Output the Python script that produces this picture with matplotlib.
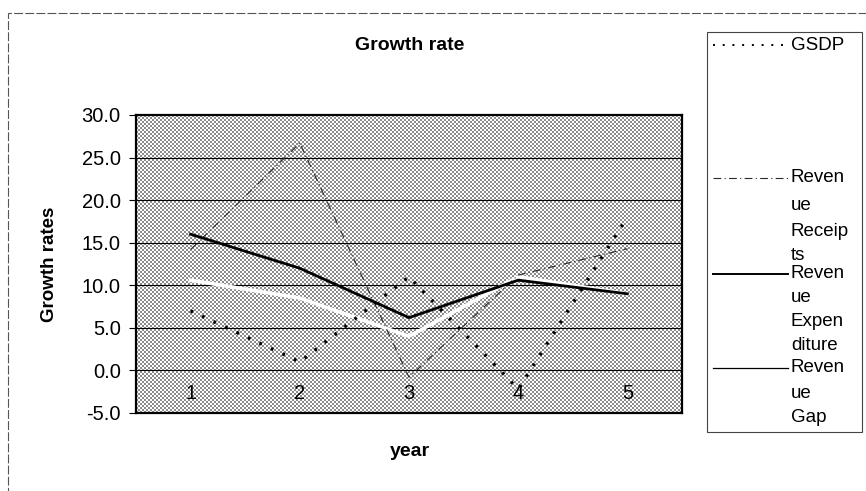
import numpy as np
import matplotlib
matplotlib.use("Agg")
import matplotlib.pyplot as plt
from matplotlib.lines import Line2D
from matplotlib.patches import Rectangle

plt.rcParams["font.family"] = ["Liberation Sans", "DejaVu Sans"]

# data --------------------------------------------------------------------
years = [1, 2, 3, 4, 5]
gsdp = [7.0, 1.0, 11.0, -2.2, 18.0]
rev_receipts = [14.2, 26.7, -0.8, 11.2, 14.3]
rev_expenditure = [16.0, 12.0, 6.2, 10.6, 9.0]
rev_gap = [10.6, 8.5, 4.0, 11.0, 9.0]
yticks = [-5, 0, 5, 10, 15, 20, 25, 30]

W, H = 866, 491
fig = plt.figure(figsize=(W / 100, H / 100), dpi=100)


def px(x0, y0, x1, y1):
    # pixel box (top-left origin) -> figure fraction rect
    return [x0 / W, 1 - y1 / H, (x1 - x0) / W, (y1 - y0) / H]


# outer chart border (faint)
fig.patches.append(Rectangle((8 / W, -0.1), 1.2, 1 - 13 / H + 0.1, transform=fig.transFigure,
                             fill=False, edgecolor="#555555", lw=0.8, ls=(0, (8, 2))))

ax = fig.add_axes(px(136, 115, 682, 413))
ax.set_xlim(0.5, 5.5)
ax.set_ylim(-5, 30)

# stippled plot area background
ny, nx = 298, 546
ii, jj = np.mgrid[0:ny, 0:nx]
stip = (((ii // 2) + (jj // 2)) % 2).astype(float)
ax.imshow(stip, extent=[0.5, 5.5, -5, 30], aspect="auto", cmap="gray",
          vmin=-1.2, vmax=1.0, interpolation="nearest", zorder=0)

for y in yticks[1:-1]:
    ax.axhline(y, color="black", lw=0.8, zorder=1)

ax.plot(years, rev_gap, color="white", lw=2.6, zorder=2)
ax.plot(years, rev_receipts, color="#2a2a2a", lw=0.8, ls=(0, (7, 3, 1, 3)), zorder=3)
ax.plot(years, rev_expenditure, color="black", lw=2.0, zorder=4)
ax.plot(years, gsdp, color="black", lw=2.4, ls=(0, (0.8, 3.0)), zorder=5)

for s in ax.spines.values():
    s.set_linewidth(1.6)

ax.set_yticks(yticks)
ax.set_yticklabels(["%.1f" % v for v in yticks], fontsize=14.5)
ax.tick_params(axis="y", length=5, width=0.8, pad=6)
ax.set_xticks(years)
ax.set_xticklabels([str(v) for v in years], fontsize=14.5)
ax.tick_params(axis="x", length=0, pad=-21)

ax.set_ylabel("Growth rates", fontsize=13.5, fontweight="bold", labelpad=17)
fig.text(410 / W, 1 - 452 / H, "year", ha="center", va="center", fontsize=14, fontweight="bold")
fig.text(410 / W, 1 - 45 / H, "Growth rate", ha="center", va="center", fontsize=14, fontweight="bold")

# legend drawn by hand to keep the wrapped Excel labels
fig.patches.append(Rectangle((707 / W, 1 - 432 / H), 155 / W, 400 / H, transform=fig.transFigure,
                             fill=False, edgecolor="#444444", lw=0.8))


def leg_line(y, **kw):
    fig.add_artist(Line2D([713 / W, 788 / W], [1 - y / H, 1 - y / H], transform=fig.transFigure, **kw))


def leg_text(y, s):
    fig.text(791 / W, 1 - y / H, s, ha="left", va="center", fontsize=13.5)


leg_line(45, color="black", lw=1.4, ls=(0, (1, 4)))
leg_text(45, "GSDP")

leg_line(178, color="#2a2a2a", lw=0.8, ls=(0, (7, 3, 1, 3)))
for y, s in zip([178, 205, 231, 255], ["Reven", "ue", "Receip", "ts"]):
    leg_text(y, s)

leg_line(274, color="black", lw=1.4)
for y, s in zip([274, 298, 322, 346], ["Reven", "ue", "Expen", "diture"]):
    leg_text(y, s)

leg_line(368, color="black", lw=0.9)
for y, s in zip([368, 393, 417], ["Reven", "ue", "Gap"]):
    leg_text(y, s)

fig.savefig("out.png", dpi=100)
